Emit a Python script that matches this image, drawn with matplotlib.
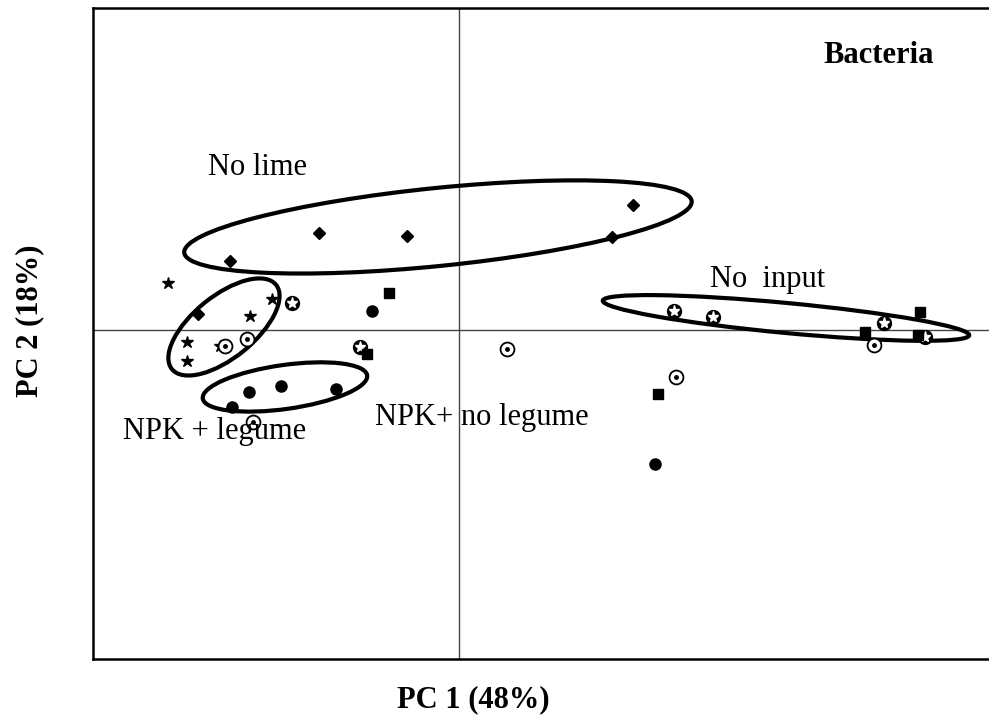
import matplotlib.pyplot as plt
from matplotlib.patches import Ellipse

plt.rcParams['font.family'] = ['Liberation Serif', 'DejaVu Serif']

# PCA scores (PC1, PC2)
no_lime_x = [-2.29, -1.40, -0.52, 1.53, 1.74, -2.61]
no_lime_y = [0.69, 0.97, 0.94, 0.93, 1.25, 0.16]

star_x = [-2.91, -1.87, -2.09, -2.72, -2.39, -2.72]
star_y = [0.47, 0.31, 0.14, -0.12, -0.16, -0.31]

cstar_x = [-1.67, -0.99, 2.15, 2.54, 4.25, 4.66]
cstar_y = [0.27, -0.17, 0.19, 0.13, 0.07, -0.07]

cdot_x = [-2.34, -2.12, -2.06, 0.48, 2.17, 4.15]
cdot_y = [-0.16, -0.09, -0.92, -0.19, -0.47, -0.15]

square_x = [-0.70, -0.92, 1.99, 4.61, 4.06, 4.59]
square_y = [0.37, -0.24, -0.64, 0.18, -0.02, -0.05]

dot_x = [-0.87, -2.10, -1.78, -1.23, -2.27, 1.96]
dot_y = [0.19, -0.62, -0.56, -0.59, -0.77, -1.34]

# group ellipses: centre, width, height, angle
ell_centre = [(-0.21, 1.03), (-2.35, 0.03), (-1.74, -0.57), (3.27, 0.12)]
ell_width = [5.10, 1.34, 1.66, 3.68]
ell_height = [0.78, 0.62, 0.44, 0.30]
ell_angle = [5.8, 39, 8, -5.4]

labels = ["No lime", "No  input", "NPK + legume", "NPK+ no legume"]
label_x = [-2.51, 2.51, -3.36, -0.84]
label_y = [1.62, 0.50, -1.02, -0.88]

fig = plt.figure(figsize=(9.89, 7.21), dpi=100)
ax = fig.add_axes([0.094, 0.086, 0.906, 0.903])
ax.set_xlim(-3.66, 5.30)
ax.set_ylim(-3.29, 3.22)

ax.axhline(0, color='#444444', lw=1, zorder=1)
ax.axvline(0, color='#444444', lw=1, zorder=1)

for c, w, h, a in zip(ell_centre, ell_width, ell_height, ell_angle):
    ax.add_patch(Ellipse(c, w, h, angle=a, fill=False, ec='black', lw=3, zorder=2))

ax.plot(no_lime_x, no_lime_y, 'D', color='black', ms=6, ls='none', zorder=3)
ax.plot(star_x, star_y, '*', color='black', ms=9, ls='none', zorder=3)
ax.plot(cstar_x, cstar_y, 'o', color='black', ms=10, ls='none', zorder=3)
ax.plot(cstar_x, cstar_y, '*', color='white', ms=8, mec='white', ls='none', zorder=4)
ax.plot(cdot_x, cdot_y, 'o', mfc='white', mec='black', mew=1.3, ms=10, ls='none', zorder=3)
ax.plot(cdot_x, cdot_y, 'o', color='black', ms=2.5, ls='none', zorder=4)
ax.plot(square_x, square_y, 's', color='black', ms=7.5, ls='none', zorder=5)
ax.plot(dot_x, dot_y, 'o', color='black', ms=8, ls='none', zorder=3)

for t, x, y in zip(labels, label_x, label_y):
    ax.text(x, y, t, fontsize=22, ha='left', va='center')
ax.text(4.75, 2.74, "Bacteria", fontsize=22, fontweight='bold', ha='right', va='center')

for s in ['left', 'bottom', 'top']:
    ax.spines[s].set_linewidth(1.8)
ax.spines['right'].set_visible(False)
ax.set_xticks([])
ax.set_yticks([])

fig.text(0.479, 0.030, "PC 1 (48%)", fontsize=22, fontweight='bold', ha='center', va='center')
fig.text(0.030, 0.555, "PC 2 (18%)", fontsize=22, fontweight='bold', ha='center', va='center', rotation=90)

fig.savefig('out.png', dpi=100)
